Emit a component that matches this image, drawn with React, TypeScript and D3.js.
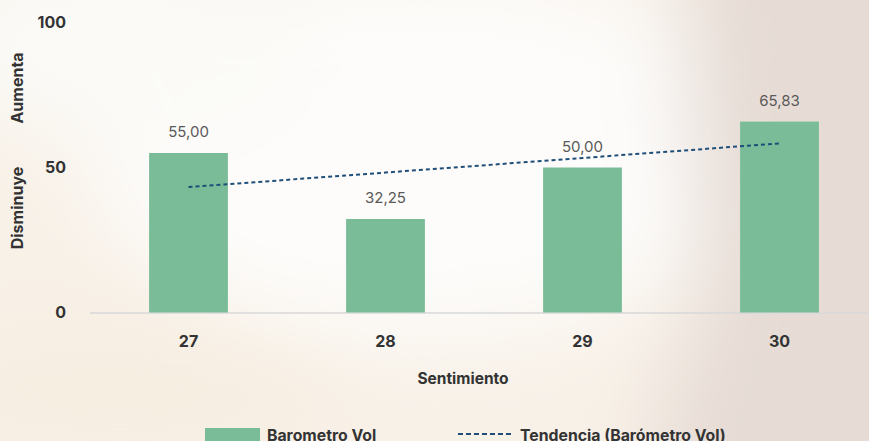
import React from "react";
import * as d3 from "d3";

const categories = ["27", "28", "29", "30"];
const values = [55.0, 32.25, 50.0, 65.83];
const labels = ["55,00", "32,25", "50,00", "65,83"];
const yTicks = [0, 50, 100];
const seriesName = "Barometro Vol";
const trendName = "Tendencia (Barómetro Vol)";

const W = 869;
const H = 441;
const FONT = "Inter, 'Noto Sans', sans-serif";

export default function App() {
  const x = d3.scaleBand<string>().domain(categories).range([90, 878]).paddingInner(0.6).paddingOuter(0.3);
  const y = d3.scaleLinear().domain([0, 100]).range([312.5, 22.5]);

  // linear regression trend line
  const xs = values.map((_, i) => i + 1);
  const mx = d3.mean(xs)!;
  const my = d3.mean(values)!;
  const slope = d3.sum(xs.map((xi, i) => (xi - mx) * (values[i] - my))) / d3.sum(xs.map((xi) => (xi - mx) ** 2));
  const intercept = my - slope * mx;
  const trendPts: [number, number][] = categories.map((c, i) => [x(c)! + x.bandwidth() / 2, y(intercept + slope * (i + 1))]);
  const line = d3.line();

  return (
    <div style={{ position: "absolute", left: 0, top: 0, width: W, height: H, overflow: "hidden" }}>
      <svg width={W} height={H} style={{ display: "block" }}>
        <defs>
          <filter id="blur" filterUnits="userSpaceOnUse" x={-200} y={-200} width={W + 400} height={H + 400}>
            <feGaussianBlur stdDeviation="40" />
          </filter>
        </defs>
        <rect x={0} y={0} width={W} height={H} fill="#f8f1e8" />
        <g filter="url(#blur)">
          <ellipse cx={420} cy={150} rx={330} ry={190} fill="#fdfcfa" />
          <ellipse cx={120} cy={40} rx={180} ry={100} fill="#fbfaf7" />
          <path d="M700,-100 C660,100 720,250 690,330 C670,400 640,440 650,600 L1000,600 L1000,-100 Z" fill="#e6dcd5" />
          <ellipse cx={120} cy={390} rx={220} ry={80} fill="#f7eee2" />
        </g>
        {/* baseline */}
        <line x1={90} x2={W} y1={y(0) + 0.5} y2={y(0) + 0.5} stroke="#d9d9d9" strokeWidth={1.5} />
        {/* y ticks */}
        {yTicks.map((t) => (
          <text key={t} x={66} y={y(t)} dy="0.35em" textAnchor="end" fontFamily={FONT} fontWeight={700} fontSize={16} fill="#333">
            {t}
          </text>
        ))}
        <text transform={`translate(23,88) rotate(-90)`} textAnchor="middle" fontFamily={FONT} fontWeight={700} fontSize={16} fill="#333">
          Aumenta
        </text>
        <text transform={`translate(23,208) rotate(-90)`} textAnchor="middle" fontFamily={FONT} fontWeight={700} fontSize={16} fill="#333">
          Disminuye
        </text>
        {/* bars */}
        {categories.map((c, i) => (
          <g key={c}>
            <rect x={x(c)} y={y(values[i])} width={x.bandwidth()} height={y(0) - y(values[i])} fill="#79bc97" />
            <text x={x(c)! + x.bandwidth() / 2} y={y(values[i]) - 16} textAnchor="middle" fontFamily={FONT} fontSize={15} fill="#595959">
              {labels[i]}
            </text>
            <text x={x(c)! + x.bandwidth() / 2} y={341} dy="0.35em" textAnchor="middle" fontFamily={FONT} fontWeight={700} fontSize={16} fill="#333">
              {c}
            </text>
          </g>
        ))}
        {/* trend */}
        <path d={line(trendPts)!} fill="none" stroke="#1f4e79" strokeWidth={2} strokeDasharray="4,3" />
        {/* x title */}
        <text x={463} y={379} dy="0.35em" textAnchor="middle" fontFamily={FONT} fontWeight={700} fontSize={15.5} fill="#333">
          Sentimiento
        </text>
        {/* legend */}
        <rect x={205} y={428} width={55} height={14} fill="#79bc97" />
        <text x={267} y={435} dy="0.35em" fontFamily={FONT} fontWeight={700} fontSize={15.8} fill="#333">
          {seriesName}
        </text>
        <line x1={458} x2={514} y1={434} y2={434} stroke="#1f4e79" strokeWidth={2} strokeDasharray="5,3" />
        <text x={520} y={435} dy="0.35em" fontFamily={FONT} fontWeight={700} fontSize={15.8} fill="#333">
          {trendName}
        </text>
      </svg>
    </div>
  );
}
